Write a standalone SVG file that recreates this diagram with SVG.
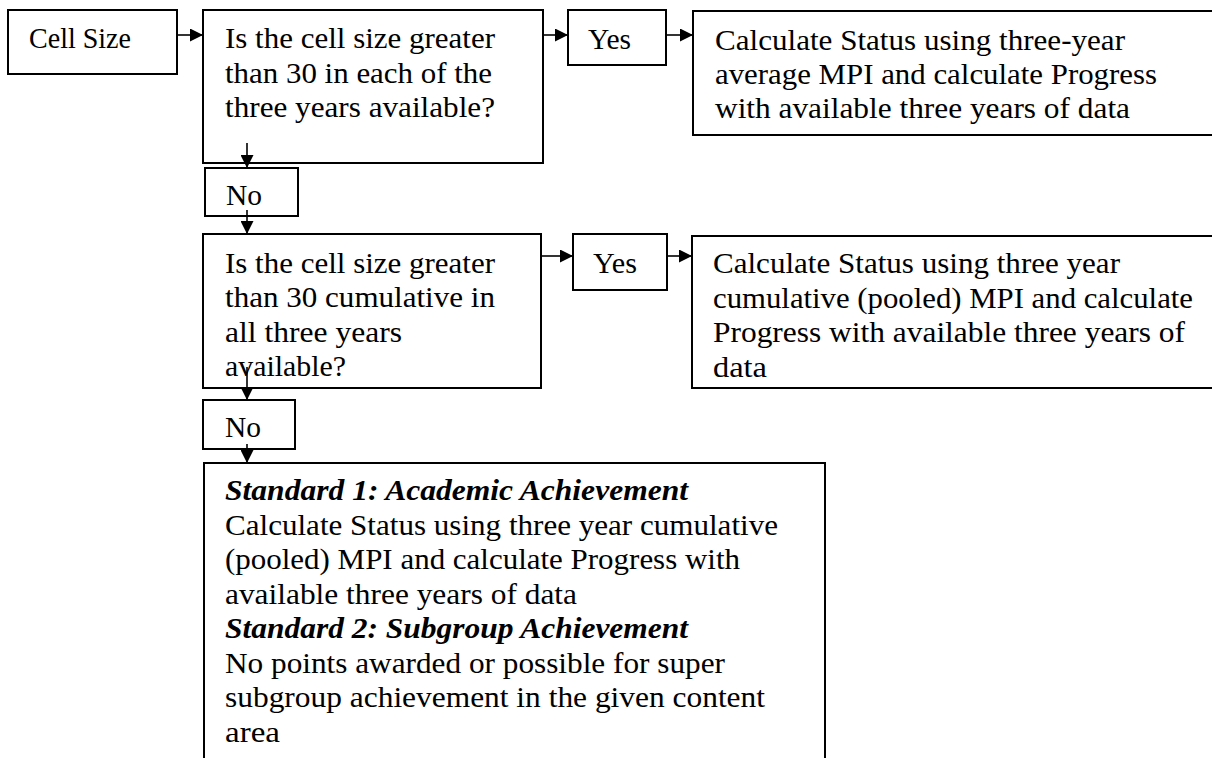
<svg xmlns="http://www.w3.org/2000/svg" width="1212" height="758" viewBox="0 0 1212 758">
  <style>
    .box { fill: #ffffff; stroke: #000000; stroke-width: 2; }
    .t { font-family: "Liberation Serif", "Times New Roman", serif; font-size: 30px; fill: #000000; }
    .bi { font-weight: bold; font-style: italic; }
    .conn { stroke: #000000; stroke-width: 1.6; fill: none; marker-end: url(#arrow); }
  </style>
  <defs>
    <marker id="arrow" markerUnits="userSpaceOnUse" viewBox="0 0 13 13" refX="13" refY="6.5" markerWidth="13" markerHeight="13" orient="auto">
      <path d="M0,0 L13,6.5 L0,13 Z" fill="#000000"/>
    </marker>
  </defs>
  <rect x="0" y="0" width="1212" height="758" fill="#ffffff"/>

  <g id="cell-size">
    <rect class="box" x="8" y="10" width="169" height="64"/>
    <text class="t" x="29" y="48" textLength="102" lengthAdjust="spacingAndGlyphs">Cell Size</text>
  </g>

  <g id="question-1">
    <rect class="box" x="203" y="10" width="340" height="153"/>
    <text class="t" x="225" y="48" textLength="270" lengthAdjust="spacingAndGlyphs">Is the cell size greater</text>
    <text class="t" x="225" y="83" textLength="267" lengthAdjust="spacingAndGlyphs">than 30 in each of the</text>
    <text class="t" x="225" y="117" textLength="270" lengthAdjust="spacingAndGlyphs">three years available?</text>
  </g>

  <g id="yes-1">
    <rect class="box" x="568" y="10" width="98" height="55"/>
    <text class="t" x="588" y="49" textLength="43" lengthAdjust="spacingAndGlyphs">Yes</text>
  </g>

  <g id="result-1">
    <rect class="box" x="693" y="11" width="530" height="124"/>
    <text class="t" x="715" y="50" textLength="410" lengthAdjust="spacingAndGlyphs">Calculate Status using three-year</text>
    <text class="t" x="715" y="84" textLength="442" lengthAdjust="spacingAndGlyphs">average MPI and calculate Progress</text>
    <text class="t" x="715" y="118" textLength="415" lengthAdjust="spacingAndGlyphs">with available three years of data</text>
  </g>

  <g id="no-1">
    <rect class="box" x="205" y="168" width="93" height="48"/>
    <text class="t" x="226" y="205" textLength="36" lengthAdjust="spacingAndGlyphs">No</text>
  </g>

  <g id="question-2">
    <rect class="box" x="203" y="234" width="338" height="154"/>
    <text class="t" x="225" y="273" textLength="270" lengthAdjust="spacingAndGlyphs">Is the cell size greater</text>
    <text class="t" x="225" y="307" textLength="270" lengthAdjust="spacingAndGlyphs">than 30 cumulative in</text>
    <text class="t" x="225" y="342" textLength="177" lengthAdjust="spacingAndGlyphs">all three years</text>
    <text class="t" x="225" y="376" textLength="121" lengthAdjust="spacingAndGlyphs">available?</text>
  </g>

  <g id="yes-2">
    <rect class="box" x="573" y="234" width="94" height="56"/>
    <text class="t" x="593" y="273" textLength="44" lengthAdjust="spacingAndGlyphs">Yes</text>
  </g>

  <g id="result-2">
    <rect class="box" x="692" y="236" width="531" height="152"/>
    <text class="t" x="713" y="273" textLength="407" lengthAdjust="spacingAndGlyphs">Calculate Status using three year</text>
    <text class="t" x="713" y="308" textLength="480" lengthAdjust="spacingAndGlyphs">cumulative (pooled) MPI and calculate</text>
    <text class="t" x="713" y="342" textLength="472" lengthAdjust="spacingAndGlyphs">Progress with available three years of</text>
    <text class="t" x="713" y="377" textLength="54" lengthAdjust="spacingAndGlyphs">data</text>
  </g>

  <g id="no-2">
    <rect class="box" x="203" y="400" width="92" height="49"/>
    <text class="t" x="225" y="437" textLength="36" lengthAdjust="spacingAndGlyphs">No</text>
  </g>

  <g id="result-3">
    <rect class="box" x="204" y="463" width="621" height="320"/>
    <text class="t bi" x="225" y="500" textLength="463" lengthAdjust="spacingAndGlyphs">Standard 1: Academic Achievement</text>
    <text class="t" x="225" y="535" textLength="553" lengthAdjust="spacingAndGlyphs">Calculate Status using three year cumulative</text>
    <text class="t" x="225" y="569" textLength="515" lengthAdjust="spacingAndGlyphs">(pooled) MPI and calculate Progress with</text>
    <text class="t" x="225" y="604" textLength="352" lengthAdjust="spacingAndGlyphs">available three years of data</text>
    <text class="t bi" x="225" y="638" textLength="463" lengthAdjust="spacingAndGlyphs">Standard 2: Subgroup Achievement</text>
    <text class="t" x="225" y="673" textLength="500" lengthAdjust="spacingAndGlyphs">No points awarded or possible for super</text>
    <text class="t" x="225" y="707" textLength="540" lengthAdjust="spacingAndGlyphs">subgroup achievement in the given content</text>
    <text class="t" x="225" y="742" textLength="55" lengthAdjust="spacingAndGlyphs">area</text>
  </g>

  <g id="connectors">
    <line class="conn" x1="177" y1="35" x2="203" y2="35"/>
    <line class="conn" x1="543" y1="35" x2="568" y2="35"/>
    <line class="conn" x1="666" y1="35" x2="693" y2="35"/>
    <line class="conn" x1="247" y1="143" x2="247" y2="168"/>
    <line class="conn" x1="247" y1="210" x2="247" y2="234"/>
    <line class="conn" x1="541" y1="256" x2="573" y2="256"/>
    <line class="conn" x1="667" y1="256" x2="692" y2="256"/>
    <line class="conn" x1="247" y1="367" x2="247" y2="400"/>
    <line class="conn" x1="247" y1="444" x2="247" y2="463"/>
  </g>
</svg>
